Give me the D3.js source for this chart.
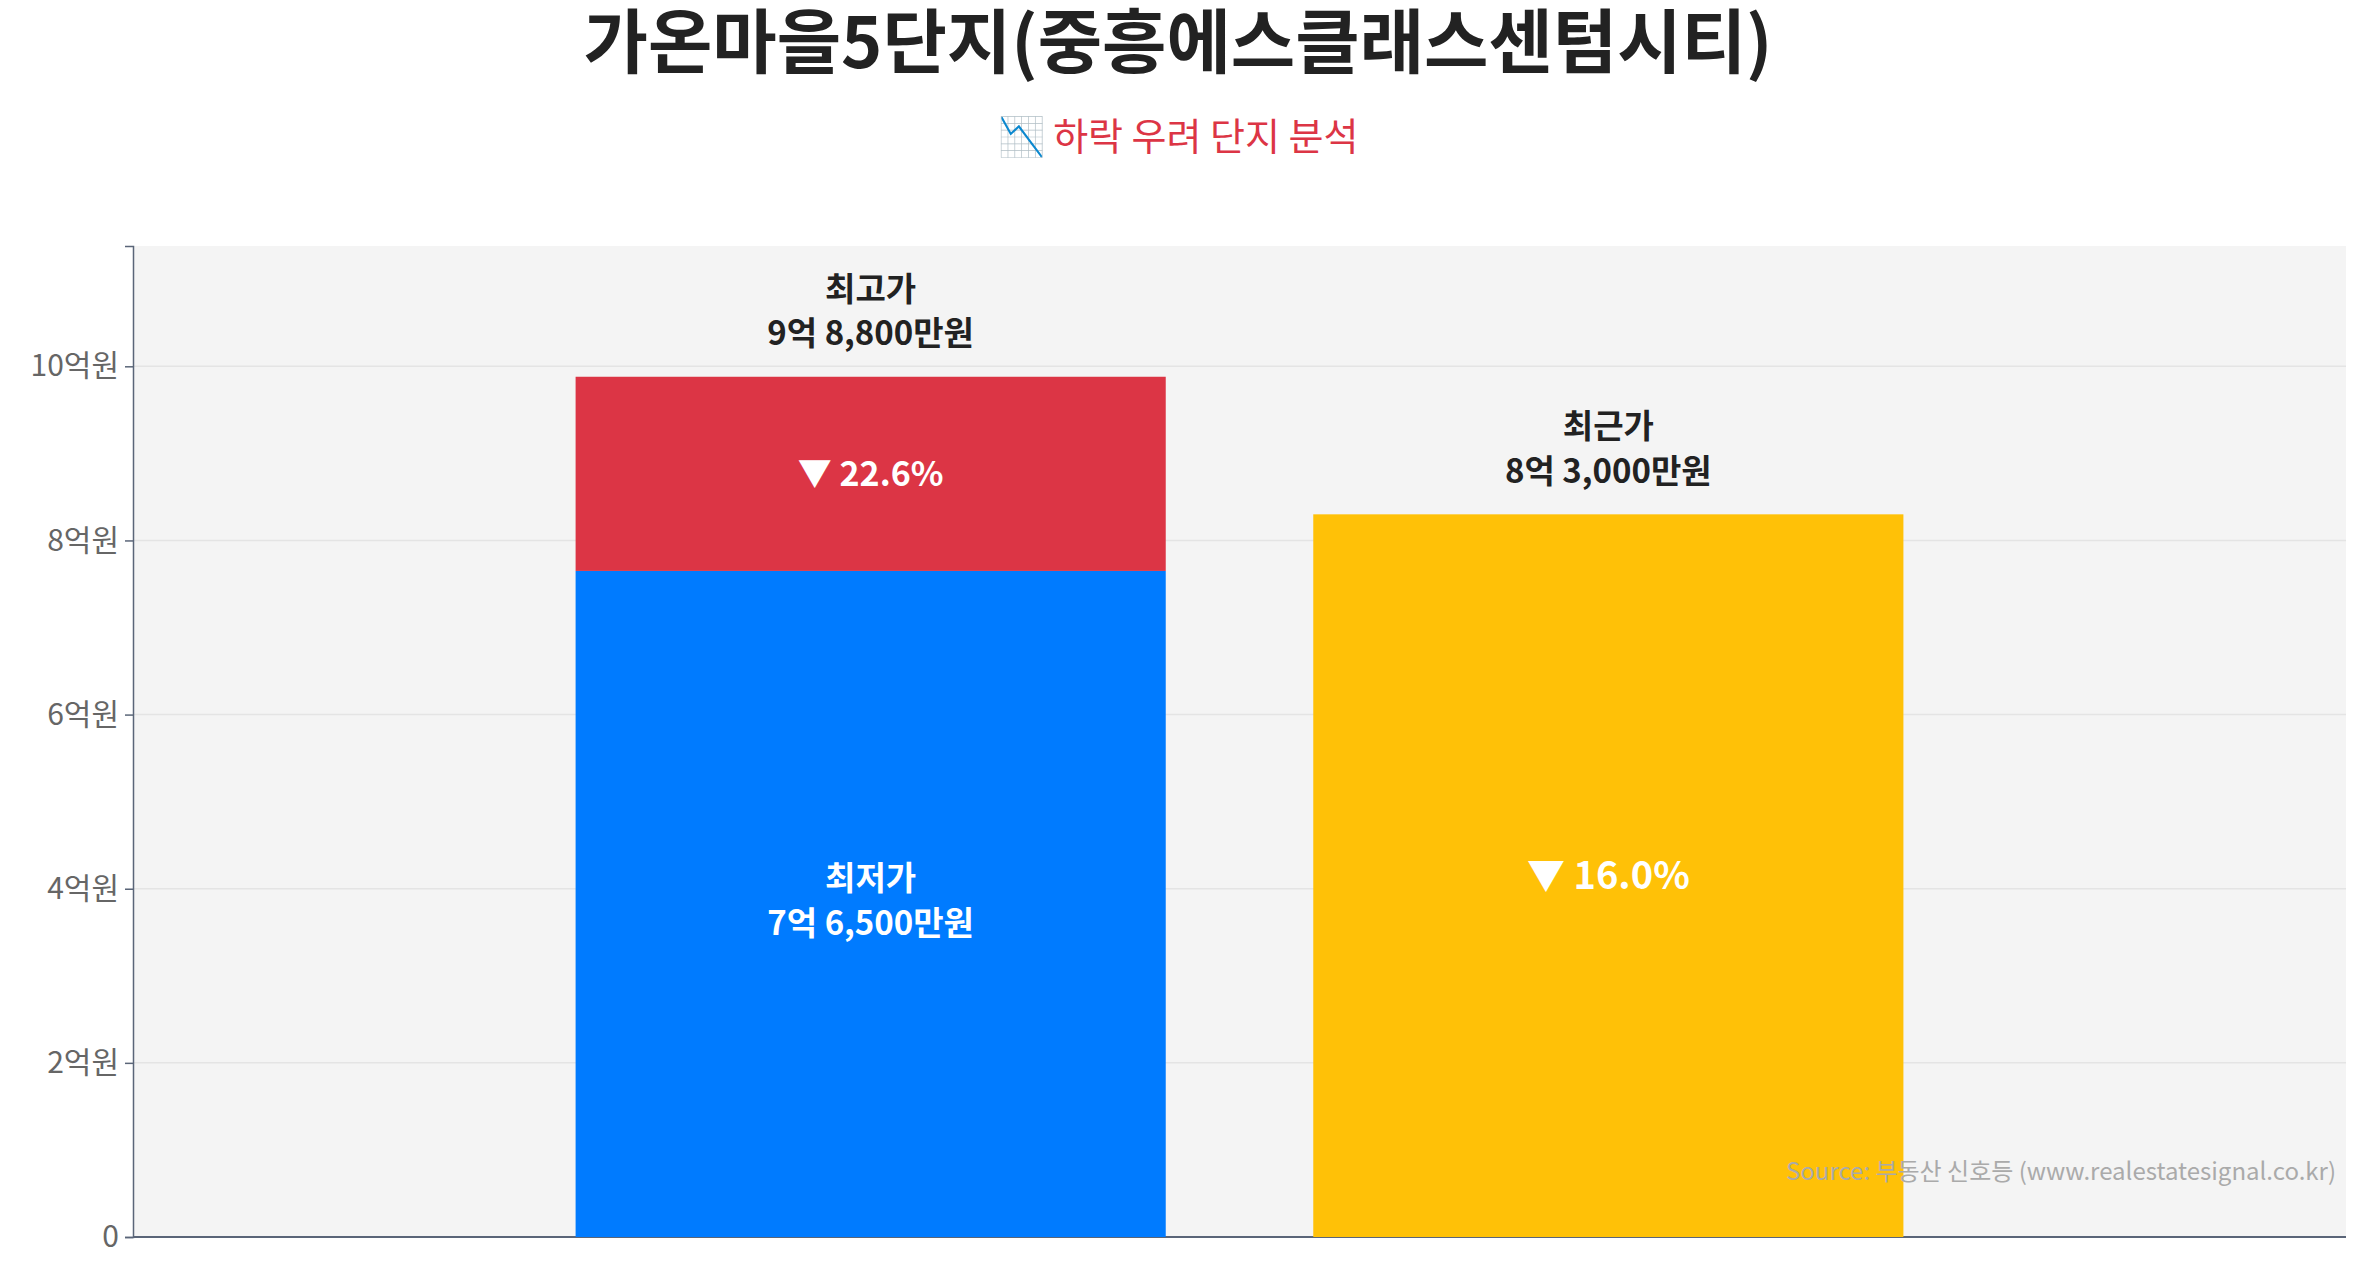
<!DOCTYPE html>
<html><head><meta charset="utf-8">
<script src="https://cdn.jsdelivr.net/npm/d3@7"></script>
<style>body{margin:0;background:#fff}svg{display:block;font-family:"Noto Sans CJK KR","Noto Sans",sans-serif}</style>
</head><body><svg id="c" width="2357" height="1270"></svg>
<script>
const title = "가온마을5단지(중흥에스클래스센텀시티)";
const subtitle = "📉 하락 우려 단지 분석";
const positions = [1, 2];
const highPrice = 9.88, lowPrice = 7.65, recentPrice = 8.30;
const highLabel = ["최고가", "9억 8,800만원"];
const lowLabel = ["최저가", "7억 6,500만원"];
const recentLabel = ["최근가", "8억 3,000만원"];
const dropHigh = "▼ 22.6%", dropRecent = "▼ 16.0%";
const yTicks = [0, 2, 4, 6, 8, 10];
const yTickLabels = ["0", "2억원", "4억원", "6억원", "8억원", "10억원"];
const source = "Source: 부동산 신호등 (www.realestatesignal.co.kr)";

const svg = d3.select("#c");
const L = 133, R = 2346, T = 246, B = 1237;
const x = d3.scaleLinear().domain([0, 3]).range([L, R]);
const y = d3.scaleLinear().domain([0, highPrice * 1.152]).range([B, T]);
const bw = (x(1) - x(0)) * 0.8;

svg.append("rect").attr("x", L).attr("y", T).attr("width", R - L).attr("height", B - T).attr("fill", "#f4f4f4");
svg.selectAll(".g").data(yTicks.slice(1)).join("line").attr("x1", L).attr("x2", R)
  .attr("y1", d => y(d)).attr("y2", d => y(d)).attr("stroke", "#e4e4e4").attr("stroke-width", 1.5);

const ax = svg.append("g").attr("transform", `translate(${L},0)`)
  .call(d3.axisLeft(y).tickValues(yTicks).tickFormat((d, i) => yTickLabels[i]).tickSize(8).tickPadding(6));
ax.selectAll("text").attr("font-size", 30).attr("fill", "#666").attr("font-family", "Noto Sans CJK KR");
ax.selectAll("line,path").attr("stroke", "#5a6578").attr("stroke-width", 1.5);
svg.append("line").attr("x1", L).attr("x2", R).attr("y1", B).attr("y2", B).attr("stroke", "#5a6578").attr("stroke-width", 2);

svg.append("rect").attr("x", x(positions[0]) - bw / 2).attr("width", bw)
  .attr("y", y(lowPrice)).attr("height", y(0) - y(lowPrice)).attr("fill", "#007bff");
svg.append("rect").attr("x", x(positions[0]) - bw / 2).attr("width", bw)
  .attr("y", y(highPrice)).attr("height", y(lowPrice) - y(highPrice)).attr("fill", "#dc3545");
svg.append("rect").attr("x", x(positions[1]) - bw / 2).attr("width", bw)
  .attr("y", y(recentPrice)).attr("height", y(0) - y(recentPrice)).attr("fill", "#ffc107");

function label(cx, cy, lines, color, size) {
  const t = svg.append("text").attr("x", cx).attr("y", cy).attr("text-anchor", "middle")
    .attr("font-size", size).attr("font-weight", "bold").attr("fill", color);
  lines.forEach((s, i) => t.append("tspan").attr("x", cx).attr("dy", i ? size * 1.35 : 0).text(s));
}
label(x(1), y(highPrice) - 76, highLabel, "#222", 33);
label(x(2), y(recentPrice) - 76, recentLabel, "#222", 33);
label(x(1), y((highPrice + lowPrice) / 2) + 12, [dropHigh], "#fff", 34);
label(x(1), y(lowPrice / 2) - 14, lowLabel, "#fff", 33);
label(x(2), y(recentPrice / 2) + 13, [dropRecent], "#fff", 38);

svg.append("text").attr("x", 1178).attr("y", 68).attr("text-anchor", "middle").attr("font-size", 70)
  .attr("font-weight", "bold").attr("fill", "#222").text(title);
svg.append("text").attr("x", 1178).attr("y", 150).attr("text-anchor", "middle").attr("font-size", 38)
  .attr("fill", "#dc3545").text(subtitle);
svg.append("text").attr("x", 2336).attr("y", 1180).attr("text-anchor", "end").attr("font-size", 24)
  .attr("fill", "#aaa").text(source);
</script></body></html>
